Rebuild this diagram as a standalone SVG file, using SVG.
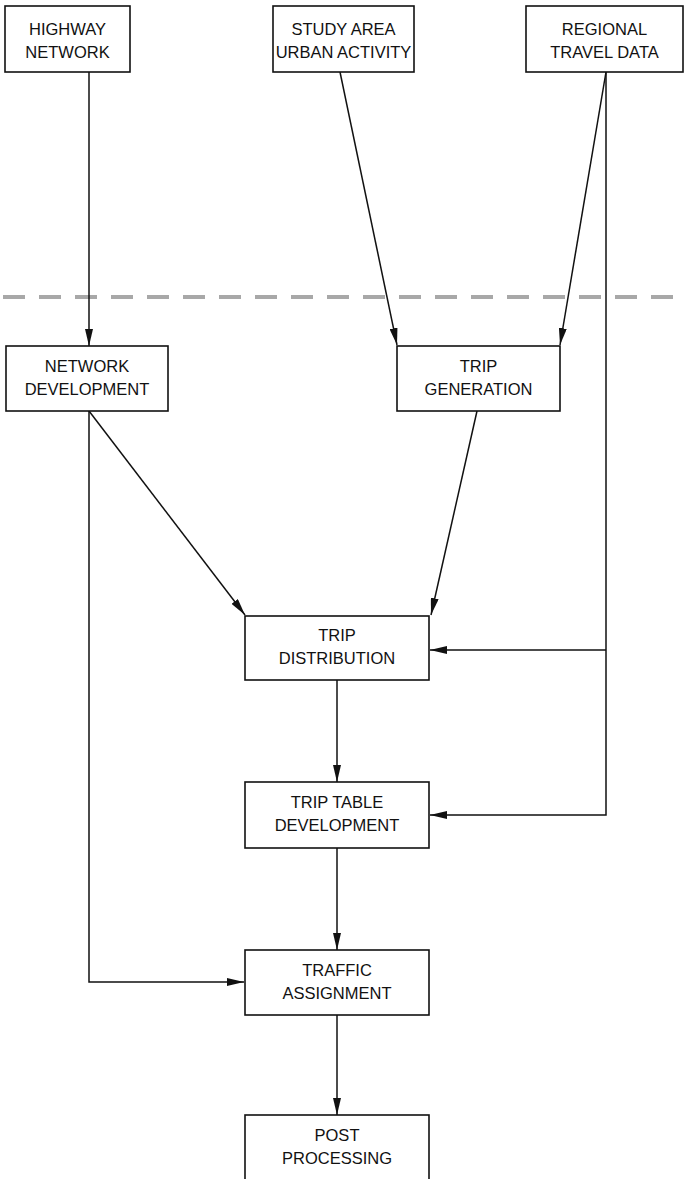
<svg xmlns="http://www.w3.org/2000/svg" width="687" height="1179" viewBox="0 0 687 1179">
  <style>
    .box { fill: #ffffff; stroke: #111111; stroke-width: 1.6; }
    .lbl { font-family: "Liberation Sans", Arial, sans-serif; font-size: 16.5px; fill: #111111; text-anchor: middle; }
    .wire { fill: none; stroke: #111111; stroke-width: 1.5; }
    .divider { stroke: #a8a8a8; stroke-width: 4; stroke-dasharray: 22 14; }
  </style>
  <defs>
    <marker id="arrow" viewBox="0 0 17 8" refX="17" refY="4" markerWidth="17" markerHeight="8" markerUnits="userSpaceOnUse" orient="auto">
      <path d="M0,0 L17,4 L0,8 Z" fill="#111111"/>
    </marker>
  </defs>
  <rect width="687" height="1179" fill="#ffffff"/>

  <!-- boundary between inputs and model steps -->
  <line class="divider" x1="3" y1="297" x2="687" y2="297"/>

  <g id="connectors">
    <line class="wire" x1="89" y1="72" x2="89" y2="346" marker-end="url(#arrow)"/>
    <line class="wire" x1="340" y1="72" x2="397" y2="345" marker-end="url(#arrow)"/>
    <line class="wire" x1="606" y1="72" x2="560" y2="345" marker-end="url(#arrow)"/>
    <polyline class="wire" points="606,72 606,815 430,815" marker-end="url(#arrow)"/>
    <line class="wire" x1="606" y1="650" x2="430" y2="650" marker-end="url(#arrow)"/>
    <line class="wire" x1="89" y1="411" x2="245" y2="615" marker-end="url(#arrow)"/>
    <polyline class="wire" points="89,411 89,982 244,982" marker-end="url(#arrow)"/>
    <line class="wire" x1="477" y1="411" x2="431" y2="615" marker-end="url(#arrow)"/>
    <line class="wire" x1="337" y1="680" x2="337" y2="782" marker-end="url(#arrow)"/>
    <line class="wire" x1="337" y1="848" x2="337" y2="950" marker-end="url(#arrow)"/>
    <line class="wire" x1="337" y1="1015" x2="337" y2="1115" marker-end="url(#arrow)"/>
  </g>

  <g id="highway-network">
    <rect class="box" x="5" y="6" width="125" height="66"/>
    <text class="lbl" x="67.5" y="35">HIGHWAY</text>
    <text class="lbl" x="67.5" y="58">NETWORK</text>
  </g>
  <g id="study-area">
    <rect class="box" x="273" y="6" width="141" height="66"/>
    <text class="lbl" x="343.5" y="35">STUDY AREA</text>
    <text class="lbl" x="343.5" y="58">URBAN ACTIVITY</text>
  </g>
  <g id="regional-travel">
    <rect class="box" x="526" y="6" width="157" height="66"/>
    <text class="lbl" x="604.5" y="35">REGIONAL</text>
    <text class="lbl" x="604.5" y="58">TRAVEL DATA</text>
  </g>
  <g id="network-development">
    <rect class="box" x="6" y="346" width="162" height="65"/>
    <text class="lbl" x="87" y="372">NETWORK</text>
    <text class="lbl" x="87" y="395">DEVELOPMENT</text>
  </g>
  <g id="trip-generation">
    <rect class="box" x="397" y="346" width="163" height="65"/>
    <text class="lbl" x="478.5" y="372">TRIP</text>
    <text class="lbl" x="478.5" y="395">GENERATION</text>
  </g>
  <g id="trip-distribution">
    <rect class="box" x="245" y="616" width="184" height="64"/>
    <text class="lbl" x="337" y="641">TRIP</text>
    <text class="lbl" x="337" y="664">DISTRIBUTION</text>
  </g>
  <g id="trip-table">
    <rect class="box" x="245" y="782" width="184" height="66"/>
    <text class="lbl" x="337" y="808">TRIP TABLE</text>
    <text class="lbl" x="337" y="831">DEVELOPMENT</text>
  </g>
  <g id="traffic-assignment">
    <rect class="box" x="245" y="950" width="184" height="65"/>
    <text class="lbl" x="337" y="976">TRAFFIC</text>
    <text class="lbl" x="337" y="999">ASSIGNMENT</text>
  </g>
  <g id="post-processing">
    <rect class="box" x="245" y="1115" width="184" height="70"/>
    <text class="lbl" x="337" y="1141">POST</text>
    <text class="lbl" x="337" y="1164">PROCESSING</text>
  </g>
</svg>
